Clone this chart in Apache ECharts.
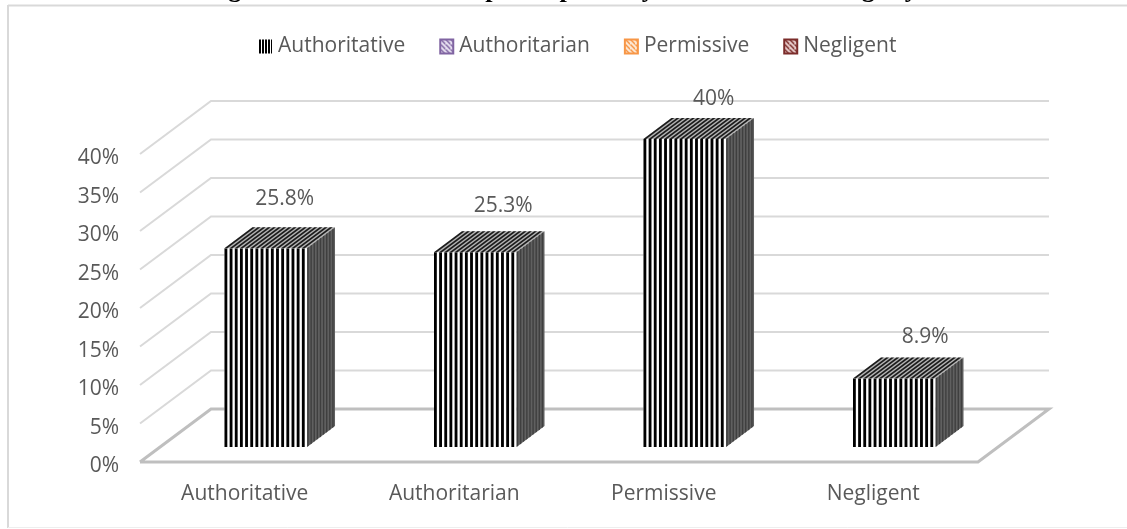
<!DOCTYPE html>
<html><head><meta charset="utf-8">
<style>html,body{margin:0;padding:0;background:#fff}#c{width:1127px;height:529px}</style>
<script src="https://cdn.jsdelivr.net/npm/echarts@6/dist/echarts.min.js"></script>
</head><body><div id="c"></div>
<script>
const titleText = 'Figure 1: Distribution of participants by different Parenting Styles';
const categories = ['Authoritative', 'Authoritarian', 'Permissive', 'Negligent'];
const values = [25.8, 25.3, 40, 8.9];
const valueLabels = ['25.8%', '25.3%', '40%', '8.9%'];
const ticks = [0, 5, 10, 15, 20, 25, 30, 35, 40];

// layout constants
const WALL = {dx: 71, dy: -53};
const BAR = {dx: 28, dy: -21, lift: 15, shift: 21, widthRatio: 0.394, stripes: 16};
const labelNudge = [[19, -49], [28, -46], [29, -40], [31, -41]];
const TEXT = '#595959', GRID = '#d9d9d9', FLOOR = '#bfbfbf';
const FONT_SIZE = 21;

function swatch(bg, fg, kind) {
  const c = document.createElement('canvas');
  const n = kind === 'bars' ? 3 : 5;
  c.width = n; c.height = n;
  const g = c.getContext('2d');
  g.fillStyle = bg; g.fillRect(0, 0, n, n);
  g.fillStyle = fg;
  if (kind === 'bars') { g.fillRect(0, 0, 2, n); }
  else { for (let i = 0; i < n; i++) { g.fillRect(i, i, 2, 1); } }
  return {image: c, repeat: 'repeat'};
}
const legendStyles = [
  {color: swatch('#ffffff', '#000000', 'bars'), borderWidth: 0},
  {color: swatch('#e6dff0', '#8064a2', 'diag'), borderColor: '#8064a2', borderWidth: 1.5},
  {color: swatch('#fde7d2', '#f79646', 'diag'), borderColor: '#f79646', borderWidth: 1.5},
  {color: swatch('#e6c9c8', '#7b2c2a', 'diag'), borderColor: '#7b2c2a', borderWidth: 1.5}
];

function poly(points, fill) {
  return {type: 'polygon', shape: {points}, style: {fill}};
}

function renderBar(params, api) {
  const i = params.seriesIndex - 1;
  const base = api.coord([api.value(0), 0]);
  const top = api.coord([api.value(0), api.value(1)]);
  const w = api.size([1, 0])[0] * BAR.widthRatio;
  const x0 = base[0] + BAR.shift - w / 2, x1 = x0 + w;
  const yb = base[1] - BAR.lift, yt = top[1] - BAR.lift;
  const {dx, dy} = BAR;
  const kids = [];
  kids.push(poly([[x0, yb], [x1, yb], [x1, yt], [x0, yt]], '#ffffff'));
  const period = w / BAR.stripes, sw = period * 0.55;
  for (let s = 0; s < BAR.stripes; s++) {
    const a = x0 + s * period, b = a + sw;
    kids.push(poly([[a, yb], [b, yb], [b, yt], [a, yt]], '#000000'));
  }
  kids.push(poly([[x0, yt], [x1, yt], [x1 + dx, yt + dy], [x0 + dx, yt + dy]], '#b4b4b4'));
  for (let s = 0; s < BAR.stripes; s++) {
    const a = x0 + s * period, b = a + sw;
    kids.push(poly([[a, yt], [b, yt], [b + dx, yt + dy], [a + dx, yt + dy]], '#1c1c1c'));
  }
  kids.push(poly([[x1, yb], [x1 + dx, yb + dy], [x1 + dx, yt + dy], [x1, yt]], '#606060'));
  const sideN = 9;
  for (let s = 0; s < sideN; s++) {
    const f = (s + 0.1) / sideN, g = (s + 0.55) / sideN;
    kids.push(poly([[x1 + dx * f, yb + dy * f], [x1 + dx * g, yb + dy * g],
                    [x1 + dx * g, yt + dy * g], [x1 + dx * f, yt + dy * f]], '#3f3f3f'));
  }
  kids.push({type: 'text', style: {
    x: base[0] + BAR.shift + labelNudge[i][0], y: yt + labelNudge[i][1],
    text: valueLabels[i], align: 'center', verticalAlign: 'middle',
    fill: TEXT, font: FONT_SIZE + 'px "Open Sans"'
  }});
  return {type: 'group', children: kids};
}

function renderWall(params, api) {
  const v = api.value(0);
  const a = api.coord([0, v]);
  const leftX = api.coord([0, 0])[0] - api.size([1, 0])[0] / 2;
  const rightX = leftX + api.size([1, 0])[0] * categories.length;
  const y = a[1];
  const isFloor = v === 0;
  const style = {stroke: isFloor ? FLOOR : GRID, lineWidth: isFloor ? 3 : 2, fill: 'none'};
  const pts = [[leftX, y], [leftX + WALL.dx, y + WALL.dy], [rightX + WALL.dx, y + WALL.dy]];
  if (isFloor) pts.push([rightX, y], [leftX, y]);
  return {type: 'polyline', shape: {points: pts}, style};
}

const series = [{
  type: 'custom', name: 'wall', silent: true, z: 1, clip: false,
  data: ticks.map(t => [t]), encode: {y: 0},
  renderItem: renderWall
}].concat(categories.map((c, i) => ({
  type: 'custom', name: c, silent: true, z: 2, clip: false,
  data: [[i, values[i]]], encode: {x: 0, y: 1},
  itemStyle: legendStyles[i],
  renderItem: renderBar
})));

const chart = echarts.init(document.getElementById('c'), null, {renderer: 'canvas'});
chart.setOption({
  animation: false,
  backgroundColor: '#ffffff',
  title: {
    text: titleText, left: 200, top: -28,
    textStyle: {fontFamily: '"Liberation Serif"', fontWeight: 'bold', fontSize: 26.2, color: '#000', lineHeight: 26}
  },
  tooltip: {show: false},
  legend: {
    data: categories.map(c => ({name: c, icon: 'rect'})),
    top: 31, left: 254, itemWidth: 13, itemHeight: 14, itemGap: 34,
    selectedMode: false,
    textStyle: {color: TEXT, fontFamily: '"Open Sans"', fontSize: FONT_SIZE, padding: [0, 0, 0, 1]}
  },
  grid: {left: 140, right: 149, top: 154, bottom: 67, containLabel: false},
  xAxis: {
    type: 'category', data: categories,
    axisLine: {show: false}, axisTick: {show: false}, splitLine: {show: false},
    axisLabel: {color: TEXT, fontFamily: '"Open Sans"', fontSize: FONT_SIZE, margin: 22}
  },
  yAxis: {
    type: 'value', min: 0, max: 40, interval: 5,
    axisLine: {show: false}, axisTick: {show: false}, splitLine: {show: false},
    axisLabel: {color: TEXT, fontFamily: '"Open Sans"', fontSize: FONT_SIZE, margin: 21, verticalAlign: 'top', lineHeight: 9, formatter: '{value}%'}
  },
  graphic: [
    {type: 'line', silent: true, z: 0, shape: {x1: 8, y1: 5.5, x2: 1127, y2: 5.5}, style: {stroke: GRID, lineWidth: 2}},
    {type: 'line', silent: true, z: 0, shape: {x1: 8, y1: 5, x2: 8, y2: 528}, style: {stroke: GRID, lineWidth: 2}},
    {type: 'line', silent: true, z: 0, shape: {x1: 8, y1: 527.5, x2: 1127, y2: 527.5}, style: {stroke: '#eeeeee', lineWidth: 1}}
  ],
  series
});
</script></body></html>
